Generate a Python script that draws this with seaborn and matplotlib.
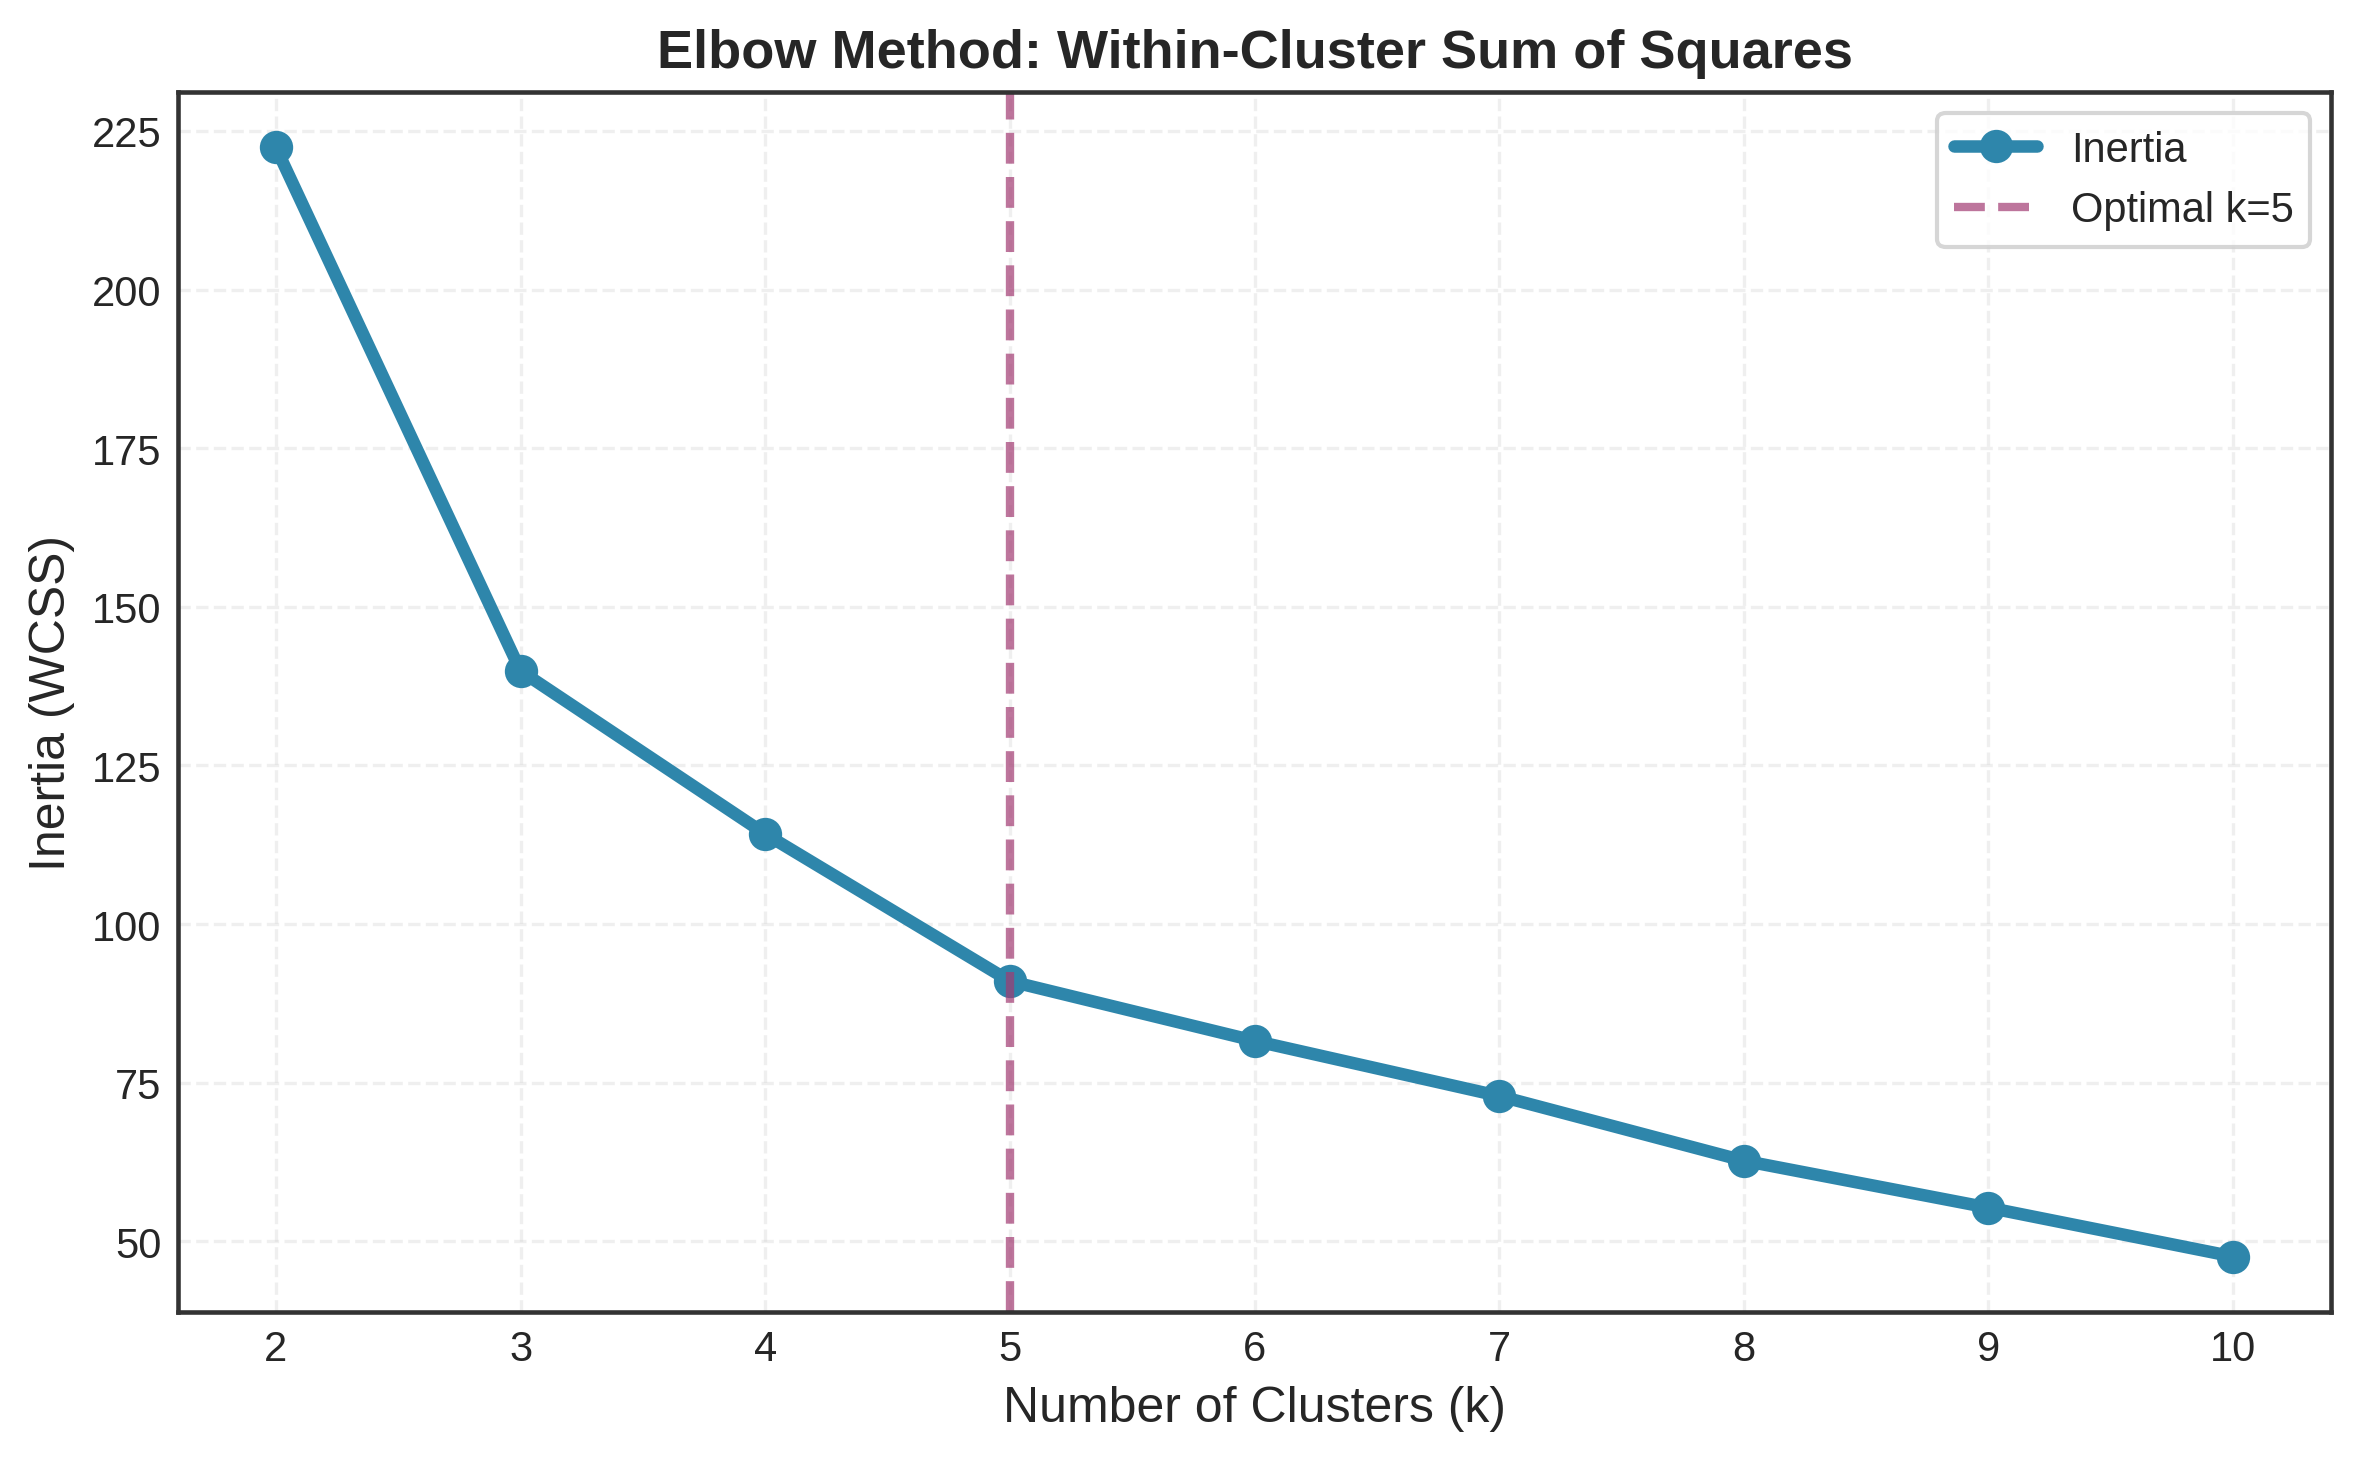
import numpy as np
import pandas as pd
import matplotlib
matplotlib.use("Agg")
import matplotlib.pyplot as plt
import seaborn as sns

# ==========================================
# DATA
# ==========================================
k_values = [2, 3, 4, 5, 6, 7, 8, 9, 10]
inertia = [222.4, 139.9, 114.2, 91.0, 81.6, 72.9, 62.7, 55.3, 47.6]
optimal_k = 5

df = pd.DataFrame({'k': k_values, 'Inertia': inertia})

# ==========================================
# STYLE
# ==========================================
sns.set_style('white')
plt.rcParams['font.family'] = ['Liberation Sans', 'DejaVu Sans']
plt.rcParams['axes.edgecolor'] = '#333333'
plt.rcParams['axes.linewidth'] = 1.1

line_color = '#2E86AB'
vline_color = '#A23B72'

# ==========================================
# PLOT
# ==========================================
fig, ax = plt.subplots(figsize=(2361 / 300, 1460 / 300), dpi=300)
fig.subplots_adjust(left=0.0754, right=0.9873, top=0.9363, bottom=0.1007)

sns.lineplot(data=df, x='k', y='Inertia', ax=ax, color=line_color,
             linewidth=3, marker='o', markersize=8,
             markeredgecolor=line_color, markeredgewidth=0, label='Inertia')
ax.axvline(optimal_k, color=vline_color, linestyle='--', linewidth=2,
           alpha=0.7, label=f'Optimal k={optimal_k}')

ax.set_xticks(k_values)
ax.grid(True, alpha=0.3, linestyle='--', linewidth=0.8)
ax.tick_params(axis='both', labelsize=10, colors='#262626', length=0, pad=4)

ax.set_xlabel('Number of Clusters (k)', fontsize=12, color='#262626')
ax.set_ylabel('Inertia (WCSS)', fontsize=12, color='#262626')
ax.set_title('Elbow Method: Within-Cluster Sum of Squares',
             fontsize=13, fontweight='bold', color='#262626')

leg = ax.legend(loc='upper right', fontsize=10, frameon=True)
leg.get_frame().set_edgecolor('#cccccc')

plt.savefig('out.png', dpi=300)
